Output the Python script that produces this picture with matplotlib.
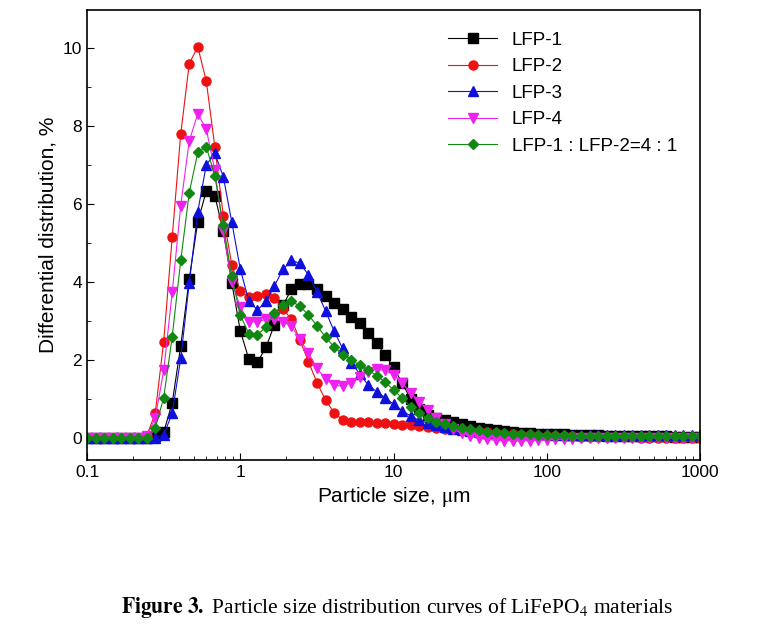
import matplotlib.pyplot as plt
from matplotlib.ticker import FixedLocator, NullFormatter

plt.rcParams['font.family'] = ['Liberation Sans', 'DejaVu Sans']
plt.rcParams['mathtext.fontset'] = 'stix'

# ------------------------------------------------------------
# Size bins (18 per decade, 0.1 .. 1000 um)
# ------------------------------------------------------------
decade = [1.0, 1.137, 1.292, 1.468, 1.668, 1.896, 2.154, 2.448, 2.783,
          3.162, 3.594, 4.084, 4.642, 5.275, 5.995, 6.813, 7.743, 8.799]
sizes = [d * 10.0 ** e for e in (-1, 0, 1, 2) for d in decade] + [1000.0]

# leading zeros: bins 0.1 .. ~0.22 um (7 bins)
zeros = [0.0] * 7

lfp1 = zeros + [0.0, 0.05, 0.15, 0.9, 2.36, 4.08, 5.54, 6.33, 6.21, 5.3, 3.97,
                2.74, 2.02, 1.94, 2.32, 2.9, 3.4, 3.81, 3.95, 3.95, 3.81, 3.65,
                3.47, 3.3, 3.11, 2.94, 2.7, 2.43, 2.13, 1.81, 1.4, 1.0, 0.75,
                0.6, 0.52, 0.45, 0.4, 0.35, 0.3, 0.26, 0.22, 0.19, 0.17, 0.15,
                0.13, 0.12, 0.11, 0.1, 0.09, 0.09, 0.08, 0.08, 0.07, 0.07, 0.06,
                0.06, 0.05, 0.05, 0.05, 0.04, 0.04, 0.04, 0.03, 0.03, 0.03, 0.02]
lfp2 = zeros + [0.05, 0.63, 2.47, 5.15, 7.8, 9.6, 10.03, 9.15, 7.47, 5.7, 4.43,
                3.77, 3.62, 3.65, 3.68, 3.6, 3.3, 3.05, 2.5, 1.95, 1.42, 0.97,
                0.65, 0.46, 0.42, 0.4, 0.4, 0.39, 0.38, 0.36, 0.34, 0.32, 0.3,
                0.28, 0.26, 0.24, 0.22, 0.2, 0.18, 0.16, 0.14, 0.12, 0.1, 0.09,
                0.08, 0.07, 0.06, 0.05, 0.05, 0.04, 0.04, 0.03, 0.03, 0.03, 0.02,
                0.02, 0.02, 0.02, 0.01, 0.01, 0.01, 0.01, 0.01, 0.0, 0.0, 0.0]
lfp3 = zeros + [0.0, 0.0, 0.08, 0.63, 2.04, 3.97, 5.8, 7.0, 7.3, 6.7, 5.53,
                4.32, 3.51, 3.28, 3.5, 3.9, 4.32, 4.55, 4.48, 4.18, 3.75, 3.26,
                2.74, 2.3, 1.93, 1.65, 1.36, 1.19, 1.03, 0.86, 0.7, 0.56, 0.45,
                0.38, 0.32, 0.27, 0.23, 0.2, 0.17, 0.15, 0.13, 0.12, 0.11, 0.1,
                0.1, 0.09, 0.09, 0.09, 0.08, 0.08, 0.08, 0.08, 0.08, 0.08, 0.08,
                0.08, 0.08, 0.08, 0.08, 0.08, 0.08, 0.08, 0.08, 0.08, 0.08, 0.08]
lfp4 = zeros + [0.05, 0.5, 1.73, 3.73, 5.96, 7.62, 8.31, 7.92, 6.87, 5.3, 4.0,
                3.35, 2.98, 2.98, 3.04, 3.04, 2.98, 2.87, 2.53, 2.17, 1.79, 1.5,
                1.36, 1.32, 1.42, 1.57, 1.7, 1.76, 1.73, 1.62, 1.4, 1.16, 0.93,
                0.72, 0.52, 0.35, 0.22, 0.12, 0.05, 0.0, -0.04, -0.06, -0.07, -0.08,
                -0.08, -0.07, -0.06, -0.05, -0.04, -0.03, -0.02, -0.01, 0.0, 0.0, 0.0,
                0.0, 0.0, 0.0, 0.0, 0.0, 0.0, 0.0, 0.0, 0.0, 0.0, 0.0]
lfp_mix = zeros + [0.0, 0.25, 1.03, 2.6, 4.55, 6.29, 7.32, 7.47, 6.72, 5.46, 4.14,
                   3.15, 2.67, 2.64, 2.85, 3.2, 3.41, 3.5, 3.38, 3.15, 2.88, 2.58,
                   2.34, 2.13, 2.0, 1.87, 1.74, 1.6, 1.43, 1.23, 1.02, 0.8, 0.63,
                   0.5, 0.42, 0.36, 0.3, 0.26, 0.22, 0.19, 0.16, 0.14, 0.12, 0.11,
                   0.1, 0.09, 0.08, 0.08, 0.07, 0.07, 0.06, 0.06, 0.06, 0.05, 0.05,
                   0.05, 0.05, 0.05, 0.05, 0.05, 0.05, 0.05, 0.05, 0.05, 0.05, 0.05]

series = [
    (lfp1, "LFP-1", "black", "s"),
    (lfp2, "LFP-2", "#ee1111", "o"),
    (lfp3, "LFP-3", "#1010dd", "^"),
    (lfp4, "LFP-4", "#ee22ee", "v"),
    (lfp_mix, "LFP-1 : LFP-2=4 : 1", "#118811", "D"),
]

# ------------------------------------------------------------
# Figure
# ------------------------------------------------------------
fig = plt.figure(figsize=(7.57, 6.35), dpi=100)
ax = fig.add_axes([0.115, 0.276, 0.81, 0.708])

for ys, label, color, mk in series:
    ms = 6.5 if mk != "D" else 5.5
    ax.plot(sizes, ys, color=color, marker=mk, markersize=ms, linewidth=0.8,
            markeredgecolor=color, label=label)

ax.set_xscale("log")
ax.set_xlim(0.1, 1000)
ax.set_ylim(-0.56, 10.97)
ax.set_xticks([0.1, 1, 10, 100, 1000])
ax.set_xticklabels(["0.1", "1", "10", "100", "1000"])
ax.set_yticks([0, 2, 4, 6, 8, 10])
ax.yaxis.set_minor_locator(FixedLocator([1, 3, 5, 7, 9]))
ax.yaxis.set_minor_formatter(NullFormatter())
ax.tick_params(which="both", direction="in", labelsize=12.5)
ax.tick_params(which="major", length=5)
ax.tick_params(which="minor", length=3)
for sp in ax.spines.values():
    sp.set_linewidth(1.2)

ax.set_xlabel(r"Particle size, $\mathrm{\mu}$m", fontsize=15)
ax.set_ylabel("Differential distribution, %", fontsize=15)

ax.legend(loc="upper right", bbox_to_anchor=(0.99, 0.99), frameon=False,
          fontsize=13.5, handlelength=2.6, labelspacing=0.5)

fig.text(0.16, 0.035, r"$\mathbf{Figure\ 3.}$ Particle size distribution curves of LiFePO$_4$ materials",
         fontsize=15.5, family="Liberation Serif")

fig.savefig("out.png", dpi=100)
